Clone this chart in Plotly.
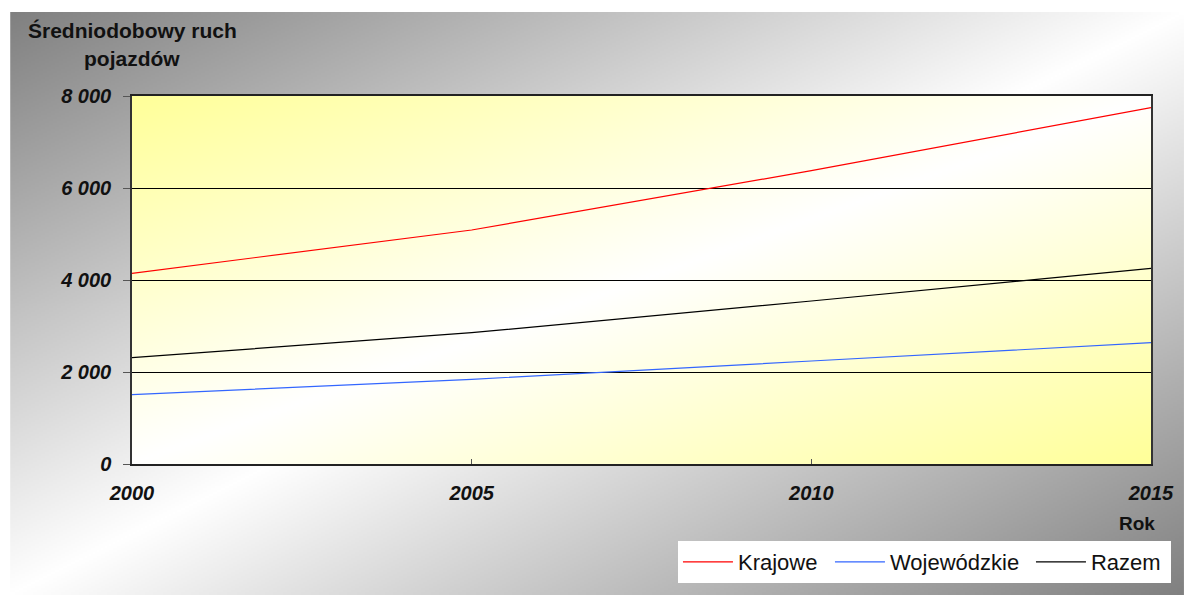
import base64
import struct
import zlib

import numpy as np
import plotly.graph_objects as go

# ---- data -------------------------------------------------------------
years = [2000, 2005, 2010, 2015]
krajowe = [4146, 5087, 6377, 7748]
wojewodzkie = [1507, 1841, 2239, 2637]
razem = [2311, 2855, 3543, 4254]

y_tickvals = [0, 2000, 4000, 6000, 8000]
y_ticktext = ["0", "2 000", "4 000", "6 000", "8 000"]
x_tickvals = [2000, 2005, 2010, 2015]
x_ticktext = ["2000", "2005", "2010", "2015"]

# ---- layout geometry (px) ---------------------------------------------
W, H = 1186, 595
L, R, T, B = 132, 33, 96, 131
PW, PH = W - L - R, H - T - B

FONT = "Liberation Sans, Arial, sans-serif"


def png_uri(rgb):
    """Encode an (h, w, 3) uint8 array as a PNG data URI."""
    h, w, _ = rgb.shape
    raw = b"".join(b"\x00" + rgb[i].tobytes() for i in range(h))

    def chunk(tag, data):
        return (struct.pack(">I", len(data)) + tag + data
                + struct.pack(">I", zlib.crc32(tag + data) & 0xFFFFFFFF))

    png = (b"\x89PNG\r\n\x1a\n"
           + chunk(b"IHDR", struct.pack(">IIBBBBB", w, h, 8, 2, 0, 0, 0))
           + chunk(b"IDAT", zlib.compress(raw, 9))
           + chunk(b"IEND", b""))
    return "data:image/png;base64," + base64.b64encode(png).decode()


def diagonal_gradient(w, h, edge, centre=(255, 255, 255)):
    """Two-colour diagonal gradient: edge colour in the top-left and
    bottom-right corners, centre colour along the other diagonal."""
    xs = np.linspace(0, 1, w)[None, :]
    ys = np.linspace(0, 1, h)[:, None]
    s = np.abs(xs + ys - 1.0)[..., None]
    edge = np.array(edge, float)
    centre = np.array(centre, float)
    img = centre * (1 - s) + edge * s
    return np.clip(np.round(img), 0, 255).astype(np.uint8)


outer_bg = png_uri(diagonal_gradient(588, 292, (128, 128, 128)))
plot_bg = png_uri(diagonal_gradient(510, 184, (255, 255, 153)))

# ---- figure -----------------------------------------------------------
fig = go.Figure()
fig.add_trace(go.Scatter(x=years, y=krajowe, name="Krajowe", mode="lines",
                         legendwidth=87,
                         line=dict(color="#FF0000", width=1.2)))
fig.add_trace(go.Scatter(x=years, y=wojewodzkie, name="Wojewódzkie", mode="lines",
                         legendwidth=136,
                         line=dict(color="#3366FF", width=1.2)))
fig.add_trace(go.Scatter(x=years, y=razem, name="Razem", mode="lines",
                         legendwidth=75,
                         line=dict(color="#000000", width=1.2)))

ox0 = (10 - L) / PW
oy0 = (H - B - 12) / PH

fig.update_layout(
    width=W, height=H,
    margin=dict(l=L, r=R, t=T, b=B, pad=0),
    paper_bgcolor="white",
    plot_bgcolor="rgba(0,0,0,0)",
    font=dict(family=FONT, color="#111111"),
    showlegend=True,
    legend=dict(
        orientation="h",
        x=(1173 - L) / PW, xanchor="right",
        y=(H - B - 541) / PH, yanchor="top",
        bgcolor="white", borderwidth=0,
        itemwidth=50,
        font=dict(size=22, family=FONT, color="#111111"),
    ),
    images=[
        dict(source=outer_bg, xref="paper", yref="paper",
             x=ox0, y=oy0, sizex=(W - 10) / PW, sizey=(H - 12) / PH,
             xanchor="left", yanchor="top", sizing="stretch", layer="below"),
        dict(source=plot_bg, xref="paper", yref="paper",
             x=0, y=1, sizex=1, sizey=1,
             xanchor="left", yanchor="top", sizing="stretch", layer="below"),
    ],
    xaxis=dict(
        range=[2000, 2015],
        tickvals=x_tickvals, ticktext=x_ticktext,
        ticks="inside", ticklen=5, tickcolor="#555555",
        tickfont=dict(size=20, family=FONT, color="#111111", weight="bold",
                      style="italic"),
        ticklabelstandoff=10,
        showgrid=False, zeroline=False,
        showline=True, linecolor="#222222", linewidth=1.5, mirror=True,
    ),
    yaxis=dict(
        range=[0, 8000],
        tickvals=y_tickvals, ticktext=y_ticktext,
        ticks="outside", ticklen=7, tickcolor="#555555",
        tickfont=dict(size=20, family=FONT, color="#111111", weight="bold",
                      style="italic"),
        ticklabelstandoff=8,
        showgrid=True, gridcolor="#000000", gridwidth=1,
        zeroline=False,
        showline=True, linecolor="#333333", linewidth=1.5, mirror=True,
    ),
    annotations=[
        dict(text="Średniodobowy ruch", xref="paper", yref="paper",
             x=0, y=(H - B - 30) / PH, xanchor="center", yanchor="middle",
             showarrow=False,
             font=dict(size=21, family=FONT, color="#111111", weight="bold")),
        dict(text="pojazdów", xref="paper", yref="paper",
             x=0, y=(H - B - 58) / PH, xanchor="center", yanchor="middle",
             showarrow=False,
             font=dict(size=21, family=FONT, color="#111111", weight="bold")),
        dict(text="Rok", xref="paper", yref="paper",
             x=(1139 - L) / PW, y=(H - B - 523) / PH,
             xanchor="center", yanchor="middle", showarrow=False,
             font=dict(size=19, family=FONT, color="#111111", weight="bold")),
    ],
)

fig.write_html("out.html")
